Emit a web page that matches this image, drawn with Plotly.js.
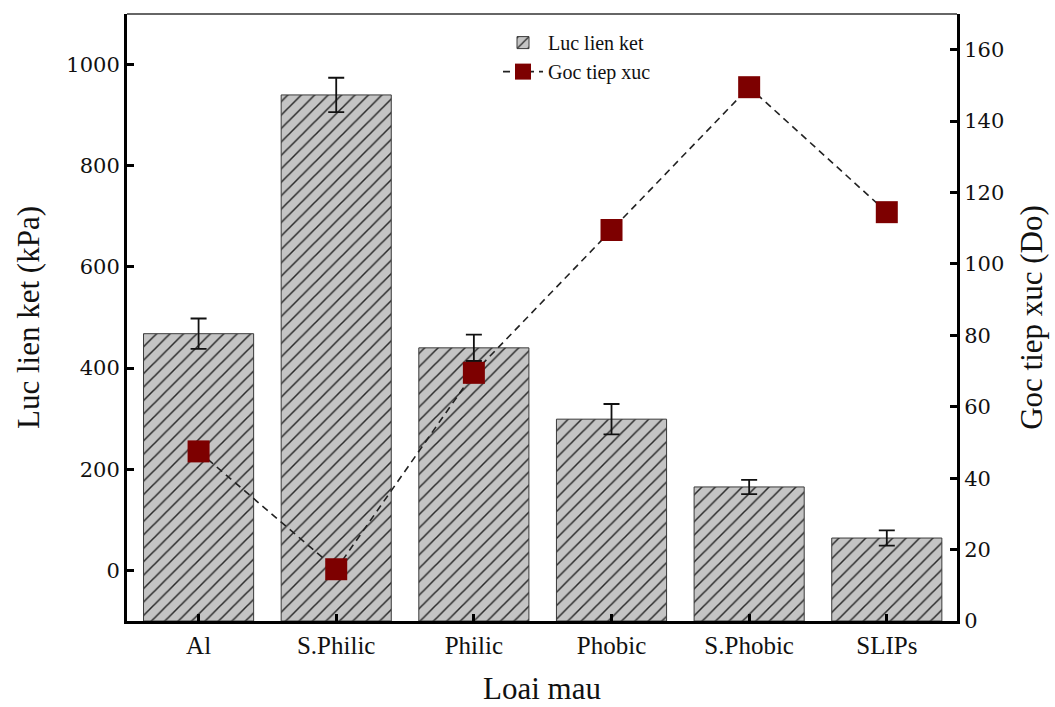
<!DOCTYPE html>
<html>
<head>
<meta charset="utf-8">
<script src="https://cdn.plot.ly/plotly-3.0.1.min.js"></script>
<style>html,body{margin:0;padding:0;background:#fff;}#chart{width:1055px;height:707px;}</style>
</head>
<body>
<div id="chart"></div>
<script>
// Data
const categories = ["Al", "S.Philic", "Philic", "Phobic", "S.Phobic", "SLIPs"];
const lucLienKet = [468, 940, 440, 299, 165, 64];        // kPa (bars, left axis)
const lucLienKetErr = [30, 34, 26, 30, 14, 15];          // kPa error
const gocTiepXuc = [47.5, 14.5, 69.5, 109.5, 149.5, 114.5]; // degrees (markers, right axis)
const yTicks = [0, 200, 400, 600, 800, 1000];
const y2Ticks = [0, 20, 40, 60, 80, 100, 120, 140, 160];

const BAR_BASE = -100; // bars start at the bottom of the left axis

const serif = "Liberation Serif, Times New Roman, serif";
const numFont = "DejaVu Serif, serif";

const traces = [
  {
    type: "bar",
    name: "Luc lien ket",
    x: categories,
    y: lucLienKet.map(v => v - BAR_BASE),
    base: BAR_BASE,
    width: 0.8,
    marker: {
      color: "#c4c4c4",
      line: {color: "#3a3a3a", width: 1},
      pattern: {shape: "/", fgcolor: "#2a2a2a", bgcolor: "#c4c4c4", size: 9.5, solidity: 0.16}
    },
    hoverinfo: "skip"
  },
  {
    type: "scatter",
    mode: "markers",
    x: categories,
    y: lucLienKet,
    marker: {opacity: 0, size: 1},
    error_y: {type: "data", array: lucLienKetErr, visible: true, color: "#111111", thickness: 1.8, width: 8},
    showlegend: false,
    hoverinfo: "skip"
  },
  {
    type: "scatter",
    mode: "lines+markers",
    name: "Goc tiep xuc",
    x: categories,
    y: gocTiepXuc,
    yaxis: "y2",
    line: {color: "#222222", width: 1.6, dash: "7px,5px"},
    marker: {symbol: "square", size: 22, color: "#7d0000", line: {width: 0}},
    hoverinfo: "skip"
  }
];

const layout = {
  width: 1055,
  height: 707,
  margin: {l: 127, r: 98, t: 14, b: 86},
  paper_bgcolor: "#ffffff",
  plot_bgcolor: "#ffffff",
  showlegend: true,
  legend: {
    x: 0.447, y: 0.985, xanchor: "left", yanchor: "top",
    bgcolor: "rgba(0,0,0,0)",
    font: {family: serif, size: 20, color: "#111"},
    itemwidth: 40,
    tracegroupgap: 0
  },
  xaxis: {
    type: "category",
    range: [-0.52, 5.51],
    showgrid: false,
    zeroline: false,
    showline: true,
    linecolor: "#000",
    linewidth: 3,
    ticks: "inside",
    ticklen: 7,
    tickwidth: 3,
    tickcolor: "#000",
    tickfont: {family: serif, size: 25, color: "#111"},
    title: {text: "Loai mau", font: {family: serif, size: 31, color: "#111"}, standoff: 20}
  },
  yaxis: {
    range: [-100, 1100],
    tickvals: yTicks,
    ticktext: yTicks.map(String),
    showgrid: false,
    zeroline: false,
    showline: true,
    linecolor: "#000",
    linewidth: 3,
    ticks: "inside",
    ticklen: 7,
    tickwidth: 3,
    tickcolor: "#000",
    tickfont: {family: numFont, size: 21, color: "#111"},
    title: {text: "Luc lien ket (kPa)", font: {family: serif, size: 31, color: "#111"}, standoff: 18}
  },
  yaxis2: {
    overlaying: "y",
    side: "right",
    range: [0, 170],
    tickvals: y2Ticks,
    ticktext: y2Ticks.map(String),
    showgrid: false,
    zeroline: false,
    showline: true,
    linecolor: "#000",
    linewidth: 3,
    ticks: "inside",
    ticklen: 7,
    tickwidth: 3,
    tickcolor: "#000",
    tickfont: {family: numFont, size: 21, color: "#111"},
    title: {text: "Goc tiep xuc (Do)", font: {family: serif, size: 31, color: "#111"}, standoff: 18}
  },
  shapes: [
    {type: "line", xref: "paper", yref: "paper", x0: 0, x1: 1, y0: 1, y1: 1,
     line: {color: "#333", width: 1.6}}
  ]
};

Plotly.newPlot("chart", traces, layout, {displayModeBar: false, staticPlot: true});
</script>
</body>
</html>
